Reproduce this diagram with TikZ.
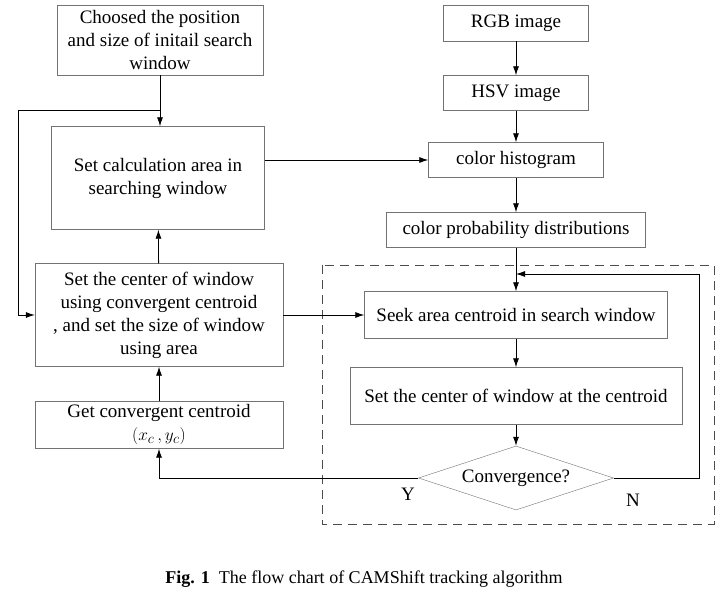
\documentclass[tikz,border=0pt]{standalone}
\usepackage{fontspec}
\setmainfont{Liberation Serif}
\usetikzlibrary{arrows.meta, positioning, shapes.geometric}

\begin{document}
\begin{tikzpicture}[x=1pt,y=-1pt,>={Latex[length=9pt,width=6pt]},font=\fontsize{19}{23}\selectfont]
    \tikzstyle{box}=[draw=black!55, align=center, inner sep=2pt]
    \tikzstyle{flow}=[->, draw=black, thick]
    \useasboundingbox (0,0) rectangle (728,599);

    % Left column
    \node[box, minimum width=206pt, minimum height=70pt] (choose) at (160,40) {Choosed the position\\and size of initail search\\window};
    \node[box, minimum width=213pt, minimum height=103pt] (calc) at (158,178) {Set calculation area in\\searching window};
    \node[box, minimum width=248pt, minimum height=103pt] (setc) at (159,315) {Set the center of window\\using convergent centroid\\, and set the size of window\\using area};
    \node[box, minimum width=248pt, minimum height=47pt] (getc) at (159,425) {Get convergent centroid\\$(x_c\,, y_c)$};

    % Right column
    \node[box, minimum width=145pt, minimum height=36pt] (rgb) at (516,23) {RGB image};
    \node[box, minimum width=145pt, minimum height=35pt] (hsv) at (516,93) {HSV image};
    \node[box, minimum width=175pt, minimum height=35pt] (hist) at (516,160) {color histogram};
    \node[box, minimum width=259pt, minimum height=35pt] (prob) at (516,230) {color probability distributions};
    \node[box, minimum width=303pt, minimum height=47pt] (seek) at (516,315) {Seek area centroid in search window};
    \node[box, minimum width=332pt, minimum height=57pt] (setw) at (516,396) {Set the center of window at the centroid};
    \node[draw=black!55, diamond, aspect=3.05, minimum width=195pt, minimum height=64pt, inner sep=0pt] (conv) at (516,478) {Convergence?};

    % Dashed frame
    \draw[dashed, dash pattern=on 9pt off 6pt, draw=black!70, thick] (322,265) rectangle (714,524);

    % Connections
    \coordinate (split) at (160,110);
    \coordinate (loopL) at (18,110);
    \coordinate (loopN) at (699,274);
    \draw[flow] (choose) -- (calc.north -| choose);
    \draw[flow] (split) -- (loopL) |- (setc.west);
    \draw[flow] (setc) -- (calc);
    \draw[flow] (getc) -- (setc);
    \draw[flow] (calc.east |- hist) -- (hist);
    \draw[flow] (setc.east |- seek) -- (seek);
    \draw[flow] (rgb) -- (hsv);
    \draw[flow] (hsv) -- (hist);
    \draw[flow] (hist) -- (prob);
    \draw[flow] (prob) -- (seek);
    \draw[flow] (seek) -- (setw);
    \draw[flow] (setw) -- (conv);
    \draw[flow] (conv.west) -- (getc.south |- conv.west) -- (getc.south);
    \draw[flow] (conv.east) -- (loopN |- conv.east) -- (loopN) -- (seek.north |- loopN);

    % Labels
    \node (yes) at (408,494) {Y};
    \node (no) at (633,500) {N};
    \node (cap) at (364,579) {\fontsize{18}{22}\selectfont\textbf{Fig. 1}\enspace The flow chart of CAMShift tracking algorithm};
\end{tikzpicture}
\end{document}
